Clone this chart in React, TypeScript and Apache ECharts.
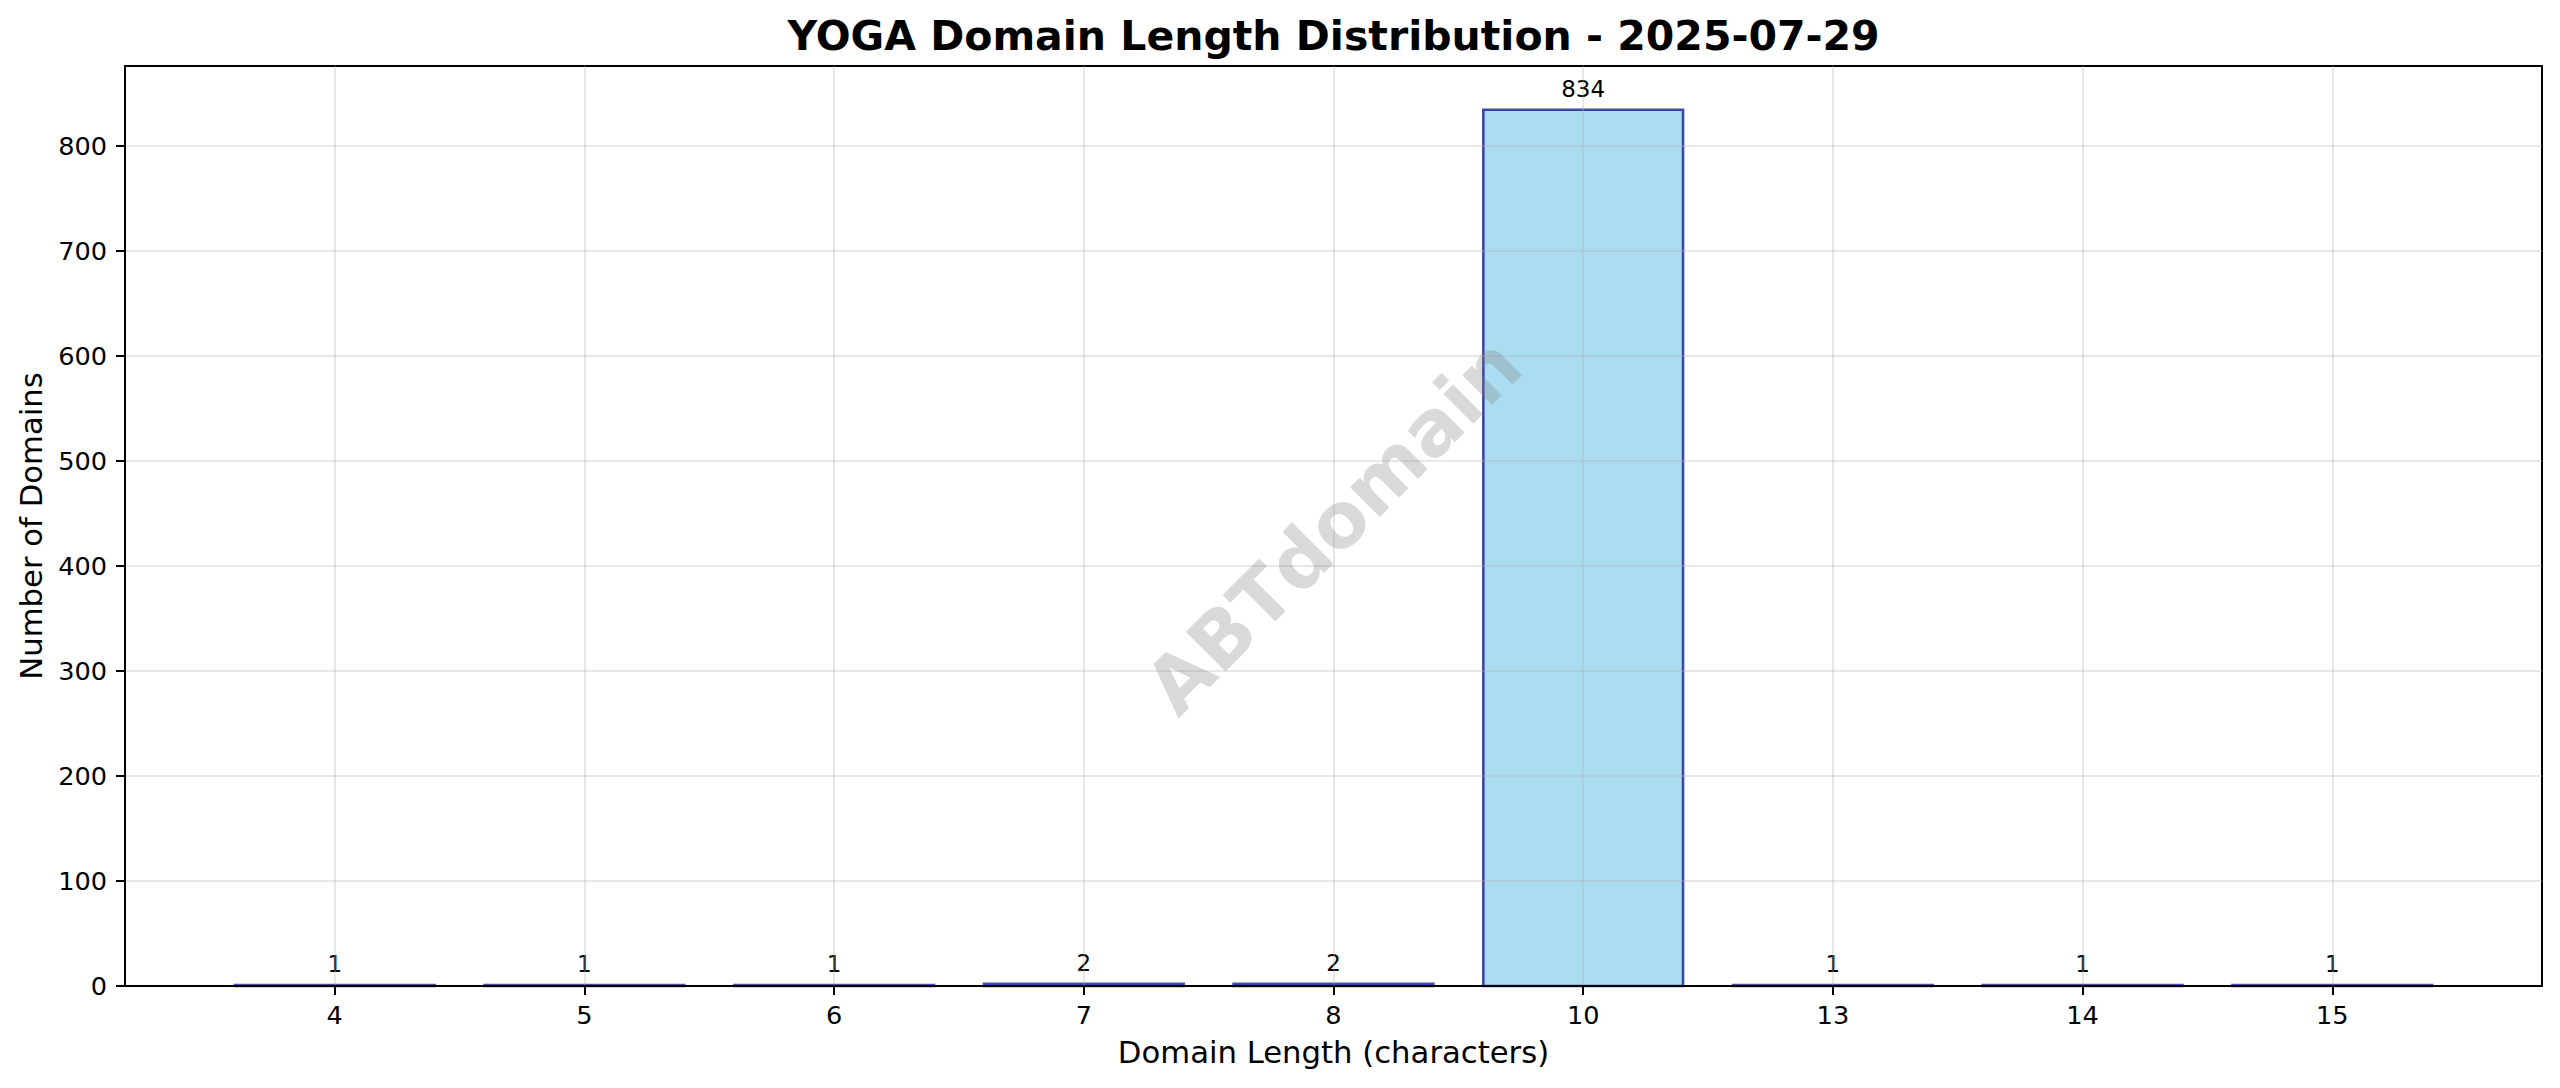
import React, { useEffect, useRef } from "react";
import * as echarts from "echarts";

// ---- data ----
const categories = ["4", "5", "6", "7", "8", "10", "13", "14", "15"];
const counts = [1, 1, 1, 2, 2, 834, 1, 1, 1];
const yTicks = [0, 100, 200, 300, 400, 500, 600, 700, 800];
const titleText = "YOGA Domain Length Distribution - 2025-07-29";
const xLabel = "Domain Length (characters)";
const yLabel = "Number of Domains";
const watermark = "ABTdomain";

const FONT = "DejaVu Sans";
const W = 2560;
const H = 1088;

export default function App() {
  const ref = useRef<HTMLDivElement>(null);

  useEffect(() => {
    document.body.style.margin = "0";
    const chart = echarts.init(ref.current as HTMLDivElement, null, { renderer: "svg" });

    const grid = { left: 125, right: 18, top: 66, bottom: 102 };
    const cx = grid.left + (W - grid.left - grid.right) / 2;
    const cy = grid.top + (H - grid.top - grid.bottom) / 2;
    const xIdx = categories.map((_, i) => i);
    const data = counts.map((v, i) => [i, v]);
    const yMax = Math.max(...counts) * 1.05;
    const n = categories.length;
    const xMin = -0.4 - 0.05 * (n - 1 + 0.8);
    const xMax = n - 1 + 0.4 + 0.05 * (n - 1 + 0.8);

    const axisLineStyle = { color: "#000", width: 2 };
    const gridLineStyle = { color: "rgba(176,176,176,0.3)", width: 2 };

    chart.setOption({
      animation: false,
      backgroundColor: "#fff",
      textStyle: { fontFamily: FONT },
      grid: {
        ...grid,
        show: true,
        borderColor: "#000",
        borderWidth: 2,
        backgroundColor: "transparent",
      },
      xAxis: {
        type: "value",
        min: xMin,
        max: xMax,
        z: 3,
        name: xLabel,
        nameLocation: "middle",
        nameGap: 51,
        nameTextStyle: { fontSize: 30.7, color: "#000", fontFamily: FONT },
        axisLine: { show: true, onZero: false, lineStyle: axisLineStyle },
        axisTick: { show: true, length: 9, customValues: xIdx, lineStyle: axisLineStyle },
        axisLabel: {
          customValues: xIdx,
          formatter: (v: number) => categories[Math.round(v)] ?? "",
          fontSize: 25.6,
          color: "#000",
          margin: 16,
          fontFamily: FONT,
        },
        splitLine: { show: true, lineStyle: gridLineStyle },
      },
      yAxis: {
        type: "value",
        min: 0,
        max: yMax,
        z: 3,
        name: yLabel,
        nameLocation: "middle",
        nameGap: 78,
        nameRotate: 90,
        nameTextStyle: { fontSize: 30.7, color: "#000", fontFamily: FONT },
        axisLine: { show: true, onZero: false, lineStyle: axisLineStyle },
        axisTick: { show: true, length: 9, customValues: yTicks, lineStyle: axisLineStyle },
        axisLabel: {
          customValues: yTicks,
          fontSize: 25.6,
          color: "#000",
          margin: 18,
          fontFamily: FONT,
        },
        splitLine: { show: true, lineStyle: gridLineStyle },
      },
      series: [
        {
          type: "custom",
          z: 2,
          data,
          encode: { x: 0, y: 1 },
          renderItem: (params: any, api: any) => {
            const i = api.value(0);
            const v = api.value(1);
            const tl = api.coord([i - 0.4, v]);
            const br = api.coord([i + 0.4, 0]);
            return {
              type: "group",
              children: [
                {
                  type: "rect",
                  shape: { x: tl[0], y: tl[1], width: br[0] - tl[0], height: br[1] - tl[1] },
                  style: {
                    fill: "rgba(135,206,235,0.7)",
                    stroke: "rgba(0,0,128,0.7)",
                    lineWidth: 2.6,
                  },
                },
                {
                  type: "text",
                  x: (tl[0] + br[0]) / 2,
                  y: tl[1] - 9,
                  z2: 10,
                  style: {
                    text: String(v),
                    fontSize: 23,
                    fontFamily: FONT,
                    fill: "#000",
                    align: "center",
                    verticalAlign: "bottom",
                  },
                },
              ],
            };
          },
        },
      ],
      graphic: [
        {
          type: "text",
          x: cx,
          y: 35.5,
          z: 10,
          style: {
            text: titleText,
            fontSize: 41,
            fontWeight: "bold",
            fontFamily: FONT,
            fill: "#000",
            align: "center",
            verticalAlign: "middle",
          },
        },
        {
          type: "text",
          x: cx,
          y: cy,
          rotation: Math.PI / 4,
          z: 10,
          style: {
            text: watermark,
            fontSize: 77,
            fontWeight: "bold",
            fontFamily: FONT,
            fill: "rgba(128,128,128,0.3)",
            align: "center",
            verticalAlign: "middle",
          },
        },
      ],
    });

    return () => {
      chart.dispose();
    };
  }, []);

  return <div ref={ref} style={{ width: W, height: H }} />;
}
